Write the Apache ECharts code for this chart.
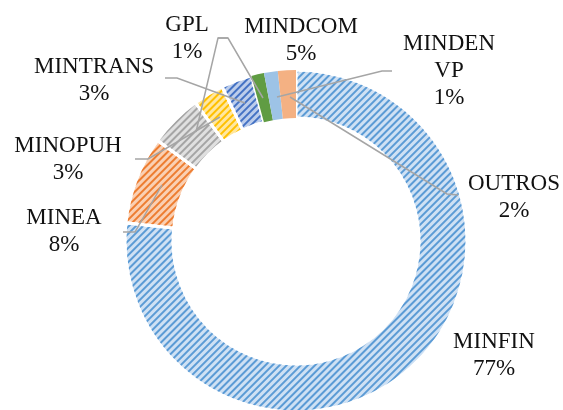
<!DOCTYPE html>
<html>
<head>
<meta charset="utf-8">
<script src="https://cdn.jsdelivr.net/npm/echarts@6/dist/echarts.min.js"></script>
<style>
  html, body { margin: 0; padding: 0; background: #fff; }
  #chart { width: 563px; height: 410px; }
</style>
</head>
<body>
<div id="chart"></div>
<script>
const names = ['MINFIN', 'MINEA', 'MINDCOM', 'MINOPUH', 'MINTRANS', 'GPL', 'MINDEN\nVP', 'OUTROS']
const values = [76.7, 8.3, 5.0, 2.9, 2.9, 1.2, 1.3, 1.7]

// fill colours: [light base, stripe colour or null for solid]
const fills = [
  ['#cfe1f4', '#5b9bd5'],
  ['#fad0b3', '#ed7d31'],
  ['#e0e0e0', '#a5a5a5'],
  ['#ffe7a0', '#ffc000'],
  ['#bccdeb', '#4472c4'],
  ['#609c43', null],
  ['#9dc3e6', null],
  ['#f4b183', null],
]

// where each label sits and how its leader line runs (slice point, elbow, label end)
const labelSpots = [
  { x: 494, y: 355, line: null },
  { x: 64, y: 231, line: [[162, 185], [135, 232], [123, 232]] },
  { x: 301, y: 40, line: [[196, 132], [218, 38], [228, 38]] },
  { x: 68, y: 159, line: [[220, 117], [148, 159], [135, 159]] },
  { x: 94, y: 80, line: [[245, 103], [177, 78], [165, 78]] },
  { x: 187, y: 38, line: [[263, 98], [228, 38], [218, 38]] },
  { x: 449, y: 71, line: [[277, 97], [382, 71], [392, 71]] },
  { x: 514, y: 197, line: [[290, 97], [447, 194], [458, 195]] },
]

const chart = echarts.init(document.getElementById('chart'))

const ringData = names.map((n, i) => {
  const [base, stripe] = fills[i]
  const style = {
    color: base,
    borderColor: '#fff',
    borderWidth: stripe ? 3 : 0,
  }
  if (stripe) {
    style.decal = {
      symbol: 'rect',
      symbolSize: 1,
      color: stripe,
      dashArrayX: [[1, 0]],
      dashArrayY: [1.5, 2.5],
      rotation: -Math.PI / 4,
    }
  }
  return { name: n, value: values[i], itemStyle: style }
})

// same values again, invisible, only to carry labels and leader lines above the ring
const labelData = names.map((n, i) => ({
  name: n,
  value: values[i],
  labelLine: { show: !!labelSpots[i].line },
}))

const ring = {
  type: 'pie',
  center: [296, 241],
  radius: [123, 171],
  startAngle: 90,
  clockwise: true,
  silent: true,
}

chart.setOption({
  backgroundColor: '#fff',
  animation: false,
  series: [
    {
      ...ring,
      z: 2,
      label: { show: false },
      labelLine: { show: false },
      data: ringData,
    },
    {
      ...ring,
      z: 5,
      avoidLabelOverlap: false,
      itemStyle: { color: 'rgba(0,0,0,0)', borderWidth: 0 },
      label: {
        show: true,
        position: 'outside',
        fontFamily: 'Liberation Serif',
        fontSize: 23,
        lineHeight: 27,
        color: '#111',
        align: 'center',
        formatter: p => p.name + '\n' + Math.round(p.percent) + '%',
      },
      labelLine: {
        show: true,
        lineStyle: { color: '#a5a5a5', width: 1.5 },
      },
      labelLayout: p => {
        const s = labelSpots[p.dataIndex]
        const out = {
          x: s.x,
          y: s.y,
          align: 'center',
          verticalAlign: 'middle',
        }
        if (s.line) out.labelLinePoints = s.line
        return out
      },
      data: labelData,
    },
  ],
})
</script>
</body>
</html>
